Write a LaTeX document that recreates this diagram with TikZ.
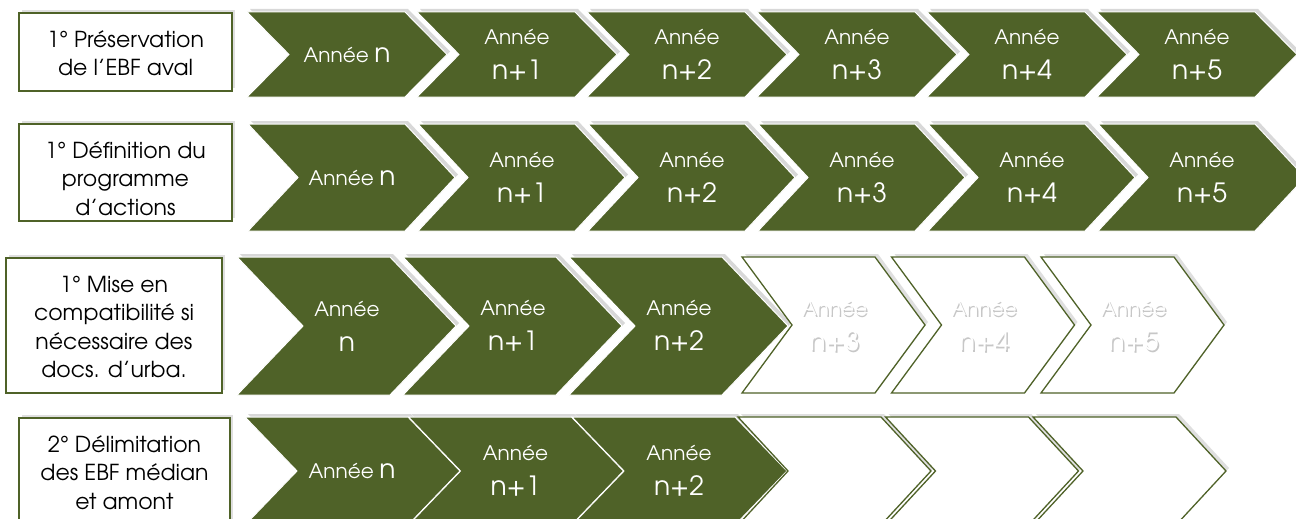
\documentclass[tikz,border=0pt]{standalone}
\usepackage{fontspec}
\setmainfont{TeX Gyre Adventor}
\usetikzlibrary{shadows}

\definecolor{olivedark}{RGB}{79,98,40}

% style, left, top, bottom, top width, depth
\newcommand\chevron[6]{%
  \path[#1] (#2,#3) -- ({#2+#5},#3) -- ({#2+#5+#6},{(#3+#4)/2})
    -- ({#2+#5},#4) -- (#2,#4) -- ({#2+#6},{(#3+#4)/2}) -- cycle;}
\newcommand\bign{\fontsize{26.5}{35}\selectfont}

\tikzset{
  fullstep/.style={fill=olivedark, draw=white, line width=1pt,
    drop shadow={shadow xshift=3pt, shadow yshift=3pt, fill=black!30}},
  emptystep/.style={fill=white, draw=olivedark, line width=1.3pt,
    drop shadow={shadow xshift=3pt, shadow yshift=3pt, fill=black!25}},
  titlebox/.style={fill=white, draw=olivedark, line width=2pt,
    drop shadow={shadow xshift=3pt, shadow yshift=3pt, fill=black!25}},
  titletext/.style={align=center, font=\fontsize{22}{28.5}\selectfont},
  yeartext/.style={text=white, align=center, font=\fontsize{20}{35}\selectfont},
  ghosttext/.style={yeartext, text=black!22},
}

\begin{document}
\begin{tikzpicture}[x=1pt, y=-1pt]
  \useasboundingbox (0,0) rectangle (1296,519);

  % titles
  \path[titlebox] (19,13) rectangle (232,91);
  \node[titletext] (pres) at (125.5,53) {1° Préservation\\de l’EBF aval};
  \path[titlebox] (19,124) rectangle (232,221);
  \begin{scope}
    \clip (20,125) rectangle (231,216);
    \node[titletext, anchor=north] (defi) at (125.5,138) {1° Définition du\\programme\\d’actions};
  \end{scope}
  \path[titlebox] (6,258) rectangle (222,393);
  \node[titletext] (mise) at (114,327) {1° Mise en\\compatibilité si\\nécessaire des\\docs. d’urba.};
  \path[titlebox] (19,418) rectangle (230,545);
  \node[titletext, anchor=north] (deli) at (124.5,432) {2° Délimitation\\des EBF médian\\et amont};

  % row 1
  \foreach \i in {0,...,5} {
    \pgfmathsetmacro\xl{247+170*\i}
    \chevron{fullstep}{\xl}{12}{97}{158}{42}
  }
  \node[yeartext] (pa0) at (347,55) {Année {\bign n}};
  \foreach \i in {1,...,5}
    \node[yeartext] (pa\i) at ({347+170*\i},55) {Année\\{\bign n+\i}};

  % row 2
  \foreach \i in {0,...,5} {
    \pgfmathsetmacro\xl{248+170*\i}
    \chevron{fullstep}{\xl}{124}{231}{157}{50}
  }
  \node[yeartext] (da0) at (352,178) {Année {\bign n}};
  \foreach \i in {1,...,5}
    \node[yeartext] (da\i) at ({352+170*\i},178) {Année\\{\bign n+\i}};

  % row 3
  \foreach \i in {0,...,2} {
    \pgfmathsetmacro\xl{237+166*\i}
    \chevron{fullstep}{\xl}{257}{395}{153}{66}
  }
  \foreach \j in {0,...,2} {
    \pgfmathsetmacro\xl{742+149.5*\j}
    \chevron{emptystep}{\xl}{257}{393}{133}{50}
  }
  \node[yeartext] (ma0) at (347,326) {Année\\{\bign n}};
  \foreach \i in {1,2}
    \node[yeartext] (ma\i) at ({347+166*\i},326) {Année\\{\bign n+\i}};
  \foreach \j [evaluate=\j as \k using int(\j+3)] in {0,1,2} {
    \node[ghosttext] (mg\j) at ({834.5+149.5*\j+1.5},{326+1.5}) {Année\\{\bign n+\k}};
    \node[yeartext] (mb\j) at ({834.5+149.5*\j},326) {Année\\{\bign n+\k}};
  }

  % row 4
  \foreach \i in {0,...,2} {
    \pgfmathsetmacro\xl{245+163.5*\i}
    \chevron{fullstep}{\xl}{417}{525}{163}{52}
  }
  \foreach \j in {0,...,2} {
    \pgfmathsetmacro\xl{738+147.5*\j}
    \chevron{emptystep}{\xl}{417}{525}{143}{50}
  }
  \node[yeartext] (la0) at (352,471) {Année {\bign n}};
  \foreach \i in {1,2}
    \node[yeartext] (la\i) at ({352+163.5*\i},471) {Année\\{\bign n+\i}};
\end{tikzpicture}
\end{document}
